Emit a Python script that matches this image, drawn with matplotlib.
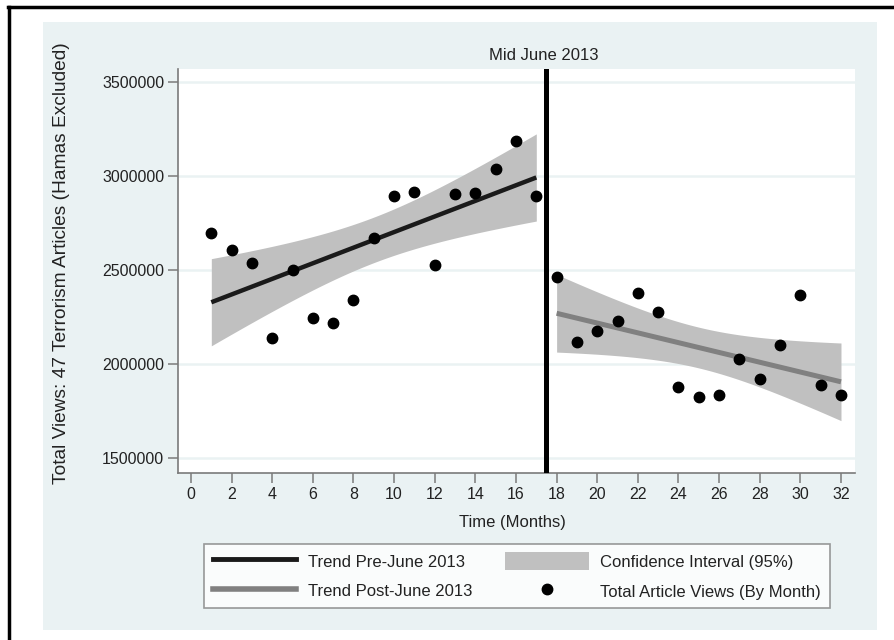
import numpy as np
import matplotlib
matplotlib.use("Agg")
from matplotlib import pyplot as plt
from matplotlib.patches import Rectangle, Patch
from matplotlib.lines import Line2D

# monthly article views
months_pre = [1, 2, 3, 4, 5, 6, 7, 8, 9, 10, 11, 12, 13, 14, 15, 16, 17]
views_pre = [2700000, 2606000, 2540000, 2138000, 2502000, 2248000, 2220000, 2342000,
             2673000, 2897000, 2918000, 2528000, 2907000, 2913000, 3040000, 3189000, 2895000]
months_post = [18, 19, 20, 21, 22, 23, 24, 25, 26, 27, 28, 29, 30, 31, 32]
views_post = [2466000, 2120000, 2179000, 2230000, 2381000, 2278000, 1881000, 1825000,
              1837000, 2028000, 1922000, 2101000, 2367000, 1888000, 1837000]

break_month = 17.5
xticks = list(range(0, 33, 2))
yticks = [1500000, 2000000, 2500000, 3000000, 3500000]
legend_labels = ["Trend Pre-June 2013", "Trend Post-June 2013",
                 "Confidence Interval (95%)", "Total Article Views (By Month)"]

# t critical values (97.5%), df = n - 2
t_pre = 2.131
t_post = 2.160


def fit_ci(x, y, t):
    # linear fit with 95% CI of the mean prediction (like stata lfitci)
    x = np.asarray(x, float)
    y = np.asarray(y, float)
    b, a = np.polyfit(x, y, 1)
    xs = np.linspace(x.min(), x.max(), 120)
    fit = a + b * xs
    resid = y - (a + b * x)
    s = np.sqrt(np.sum(resid ** 2) / (len(x) - 2))
    se = s * np.sqrt(1 / len(x) + (xs - x.mean()) ** 2 / np.sum((x - x.mean()) ** 2))
    return xs, fit, fit - t * se, fit + t * se


plt.rcParams['font.family'] = ['Liberation Sans', 'DejaVu Sans']
txt = '#222222'

W, H = 894, 640
fig = plt.figure(figsize=(W / 100, H / 100), dpi=100)


def fx(px):
    return px / W


def fy(py):
    return 1 - py / H


# light blue graph region + black frame
fig.add_artist(Rectangle((fx(43), fy(630)), fx(877) - fx(43), fy(22) - fy(630),
                         transform=fig.transFigure, facecolor='#EAF2F3',
                         edgecolor='none', zorder=-2))
fig.add_artist(Line2D([fx(8), 1], [fy(7), fy(7)], transform=fig.transFigure,
                      color='black', lw=2.5))
fig.add_artist(Line2D([fx(9), fx(9)], [0, fy(7)], transform=fig.transFigure,
                      color='black', lw=2.5))

ax = fig.add_axes([fx(178), fy(473), fx(855) - fx(178), fy(69) - fy(473)])
ax.set_facecolor('white')

xs, fit, lo, hi = fit_ci(months_pre, views_pre, t_pre)
ax.fill_between(xs, lo, hi, color='#C0C0C0', lw=0, zorder=2)
ax.plot(xs, fit, color='#1a1a1a', lw=3.2, zorder=3, solid_capstyle='butt')

xs2, fit2, lo2, hi2 = fit_ci(months_post, views_post, t_post)
ax.fill_between(xs2, lo2, hi2, color='#C0C0C0', lw=0, zorder=2)
ax.plot(xs2, fit2, color='#808080', lw=3.6, zorder=3, solid_capstyle='butt')

ax.plot(months_pre + months_post, views_pre + views_post, 'o', color='black',
        markersize=7.5, zorder=4)

ax.axvline(break_month, color='black', lw=3.6, zorder=5)
ax.annotate("Mid June 2013", xy=(break_month, 1), xycoords=('data', 'axes fraction'),
            xytext=(-2, 10), textcoords='offset points', ha='center', va='center',
            fontsize=12, color=txt)

ax.set_xlim(-0.64, 32.69)
ax.set_ylim(1422000, 3571000)
ax.set_xticks(xticks)
ax.set_yticks(yticks)
ax.set_yticklabels([str(v) for v in yticks])
ax.yaxis.grid(True, color='#EAF2F3', lw=1.8)
ax.set_axisbelow(True)

for side in ['top', 'right']:
    ax.spines[side].set_visible(False)
for side in ['left', 'bottom']:
    ax.spines[side].set_color('#7a7a7a')
    ax.spines[side].set_linewidth(1.2)
ax.tick_params(direction='out', length=7, width=1.1, color='#7a7a7a',
               labelsize=11.5, labelcolor=txt, pad=3)

fig.text(fx(62), fy(263), "Total Views: 47 Terrorism Articles (Hamas Excluded)",
         rotation=90, ha='center', va='center', fontsize=13.8, color=txt)
fig.text(fx(512), fy(523), "Time (Months)", ha='center', va='center',
         fontsize=12, color=txt)

handles = [Line2D([], [], color='#1a1a1a', lw=3.5),
           Line2D([], [], color='#808080', lw=4),
           Patch(facecolor='#C0C0C0', edgecolor='none'),
           Line2D([], [], ls='none', marker='o', color='black', markersize=7.5)]
leg = fig.legend(handles, legend_labels, loc='center', bbox_to_anchor=(fx(517), fy(576)),
                 ncol=2, frameon=True, fancybox=False, edgecolor='#808080',
                 fontsize=12, handlelength=5.0, handleheight=1.3, handletextpad=0.7,
                 columnspacing=2.0, labelspacing=0.7, borderpad=0.5)
leg.get_frame().set_linewidth(1.2)
for t in leg.get_texts():
    t.set_color(txt)

fig.savefig("out.png", dpi=100, facecolor='white')
